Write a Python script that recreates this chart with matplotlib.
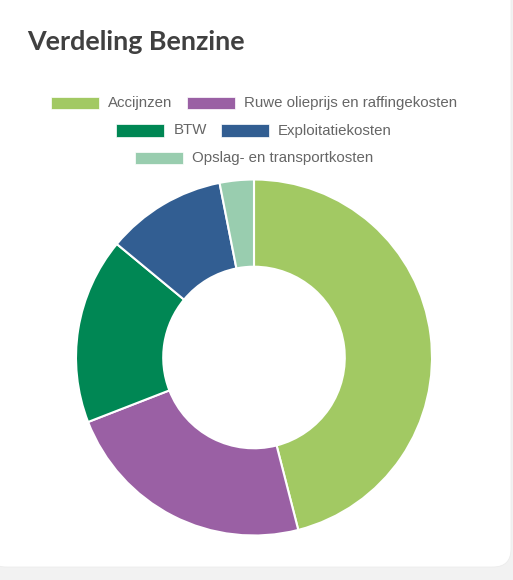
import matplotlib
matplotlib.use('Agg')
import matplotlib.pyplot as plt
from matplotlib.patches import FancyBboxPatch, Rectangle
from matplotlib.transforms import IdentityTransform

# data (share of the benzine price, %)
labels = ['Accijnzen', 'Ruwe olieprijs en raffingekosten', 'BTW',
          'Exploitatiekosten', 'Opslag- en transportkosten']
shares = [46.0, 23.1, 16.9, 10.9, 3.1]
colors = ['#a2c963', '#9a60a4', '#008754', '#325e92', '#99cdaf']
legend_rows = [[0, 1], [2, 3], [4]]
title = 'Verdeling Benzine'

W, H = 513, 580
fig = plt.figure(figsize=(W / 100, H / 100), dpi=100)
fig.patch.set_facecolor('#f2f2f2')
px = IdentityTransform()

# white card with rounded corners (behind everything)
card = FancyBboxPatch((-12, H - 567), 523, 600,
                      boxstyle='round,pad=0,rounding_size=18',
                      transform=px, fc='white', ec='#ececec', lw=0.6, zorder=-5)
fig.add_artist(card)

renderer = fig.canvas.get_renderer()

# title, sized to the reference width
t = fig.text(27, H - 50.5, title, transform=px, fontsize=20,
             family='Lato', weight='bold', color='#404040', va='baseline')
tw = t.get_window_extent(renderer).width
t.set_fontsize(20 * 218 / tw)

# legend, centred rows
cx = 254
row_y = [102.8, 130.5, 157.8]
box_w, box_h, pad, gap = 48, 12.5, 9, 14
for r, row in enumerate(legend_rows):
    y = H - row_y[r]
    texts = []
    for i in row:
        tt = fig.text(0, y, labels[i], transform=px, fontsize=10.8,
                      family='Liberation Sans', color='#666666', va='center')
        texts.append(tt)
    widths = [tt.get_window_extent(renderer).width for tt in texts]
    total = sum(box_w + pad + w for w in widths) + gap * (len(row) - 1)
    x = cx - total / 2
    for i, tt, w in zip(row, texts, widths):
        fig.add_artist(Rectangle((x, y - box_h / 2), box_w, box_h, transform=px,
                                 fc=colors[i], ec='white', lw=0.5))
        tt.set_x(x + box_w + pad)
        x += box_w + pad + w + gap

# donut
R = 178
ccx, ccy = 254, 357.5
ax = fig.add_axes([(ccx - R) / W, 1 - (ccy + R) / H, 2 * R / W, 2 * R / H])
ax.pie(shares, colors=colors, startangle=90, counterclock=False, radius=1,
       wedgeprops=dict(width=0.49, edgecolor='white', linewidth=1.5))
ax.set_xlim(-1, 1)
ax.set_ylim(-1, 1)
ax.set_aspect('equal')
ax.axis('off')
for p in ax.patches:
    p.set_clip_on(False)

fig.savefig('out.png', dpi=100, facecolor=fig.get_facecolor())
